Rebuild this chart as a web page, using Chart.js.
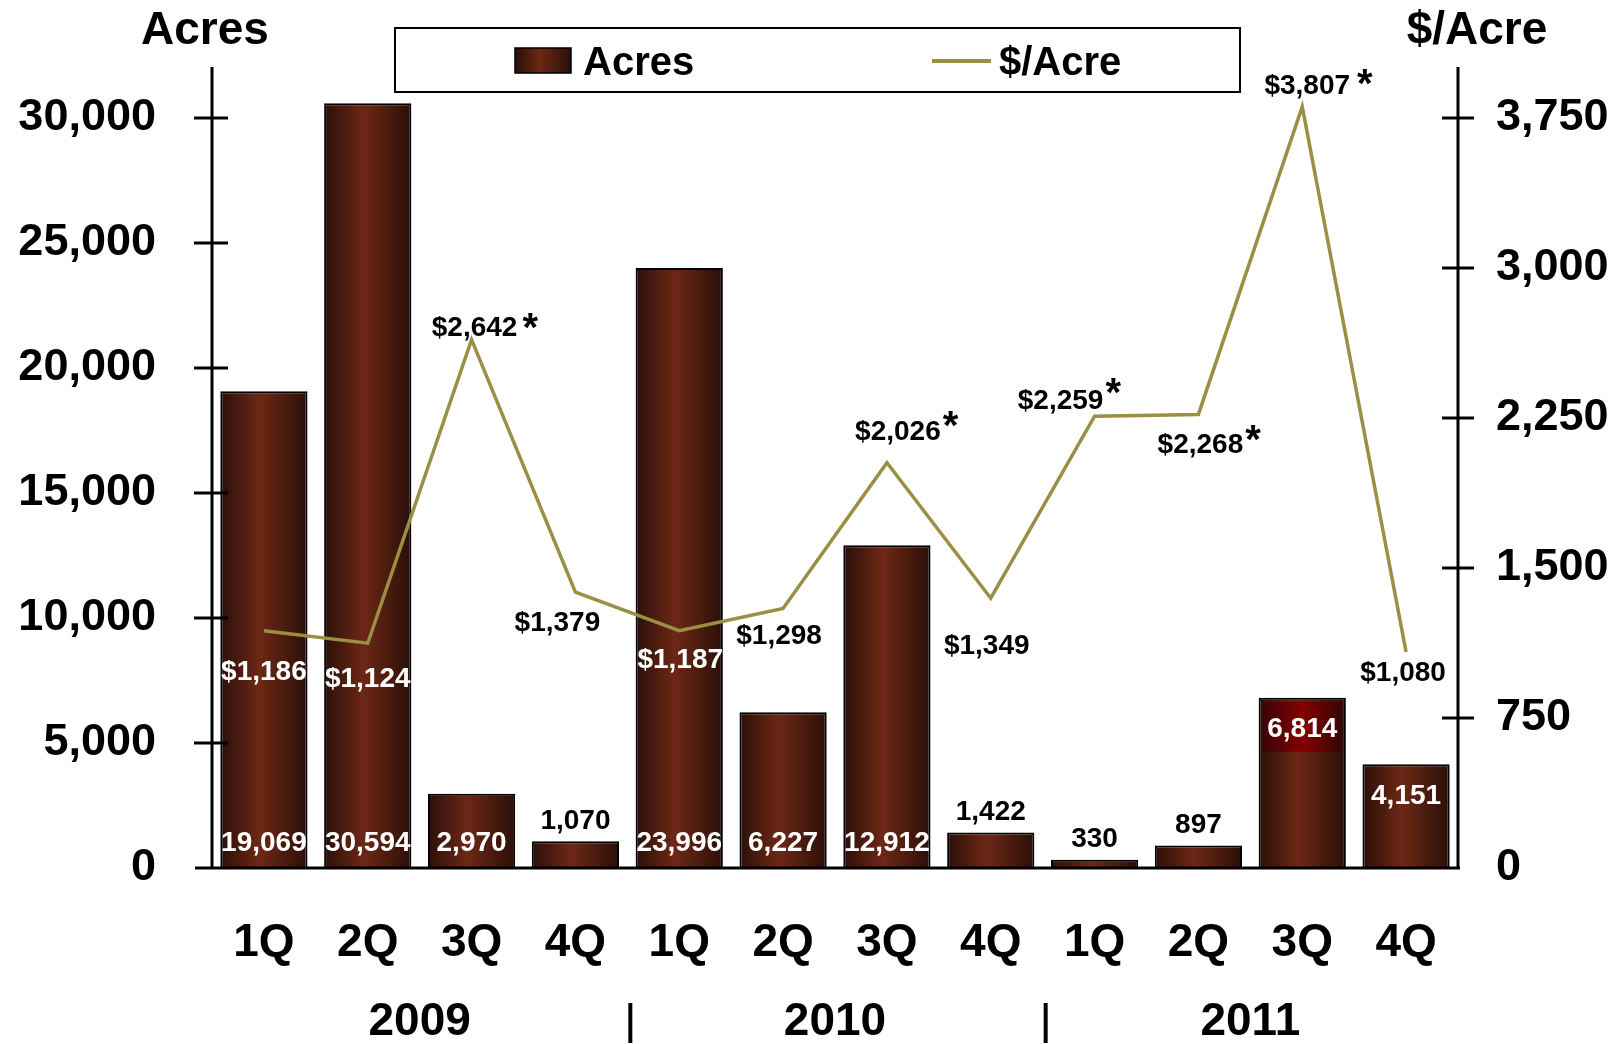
<!DOCTYPE html>
<html><head><meta charset="utf-8">
<script src="https://cdn.jsdelivr.net/npm/chart.js@4.4.1/dist/chart.umd.min.js"></script>
<style>html,body{margin:0;padding:0;background:#fff;}canvas{display:block;}</style>
</head><body>
<canvas id="c" width="1624" height="1044"></canvas>
<script>
// ---------- data ----------
const categories = ['1Q','2Q','3Q','4Q','1Q','2Q','3Q','4Q','1Q','2Q','3Q','4Q'];
const years = ['2009','2010','2011'];
const quartersPerYear = 4;
const acres = [19069, 30594, 2970, 1070, 23996, 6227, 12912, 1422, 330, 897, 6814, 4151];
const pricePerAcre = [1186, 1124, 2642, 1379, 1187, 1298, 2026, 1349, 2259, 2268, 3807, 1080];
const priceFootnote = [false, false, true, false, false, false, true, false, true, true, true, false];
const acresTicks = [0, 5000, 10000, 15000, 20000, 25000, 30000];
const priceTicks = [0, 750, 1500, 2250, 3000, 3750];
const acresMax = 32000;
const priceMax = 4000;

// ---------- label styling (placement relative to the data point) ----------
const acresLabelPlace = ['base','base','base','above','base','base','base','above','above','above','top','top'];
const acresLabelHighlight = [false,false,false,false,false,false,false,false,false,false,true,false];
const priceLabelOffset = [[0,39],[0,34],[3,-14],[-18,29],[1,27],[-4,26],[11,-33],[-4,46],[-34,-17],[2,29],[5,-23],[-3,19]];
const priceLabelColor = ['#fff','#fff','#000','#000','#fff','#000','#000','#000','#000','#000','#000','#000'];
const starGap = [0,0,5,0,0,0,2,0,2,2,7,0];
const starRaise = [0,0,5,0,0,0,11,0,13,10,7,1];

const FONT = "'Liberation Sans', Arial, sans-serif";
const LINE_COLOR = '#9a8f45';
const BAR_FRACTION = 0.84;

function barGradient(c) {
  const chart = c.chart;
  const x = chart.scales && chart.scales.x;
  if (!x || c.dataIndex === undefined || !isFinite(x.width)) return '#5a2012';
  const cx = x.getPixelForValue(c.dataIndex);
  const hw = (x.width / categories.length) * BAR_FRACTION / 2;
  const g = chart.ctx.createLinearGradient(cx - hw, 0, cx + hw, 0);
  g.addColorStop(0, '#2a0f08');
  g.addColorStop(0.45, '#6d2815');
  g.addColorStop(1, '#2a0f08');
  return g;
}

function fmt(v) { return v.toLocaleString('en-US'); }

const decor = {
  id: 'decor',
  afterDatasetsDraw(chart) {
    const ctx = chart.ctx;
    const xS = chart.scales.x, yS = chart.scales.y, y1S = chart.scales.y1;
    const area = chart.chartArea;
    const left = area.left, right = area.right, top = area.top;
    const base = yS.getPixelForValue(0);
    ctx.save();
    // axes
    ctx.strokeStyle = '#000';
    ctx.lineWidth = 3;
    ctx.beginPath();
    ctx.moveTo(left, top - 1); ctx.lineTo(left, base);
    ctx.moveTo(right, top - 1); ctx.lineTo(right, base);
    ctx.moveTo(left - 17, base); ctx.lineTo(right + 2, base);
    ctx.stroke();
    acresTicks.forEach(v => {
      if (v === 0) return;
      const p = yS.getPixelForValue(v);
      ctx.beginPath(); ctx.moveTo(left - 18, p); ctx.lineTo(left + 16, p); ctx.stroke();
    });
    priceTicks.forEach(v => {
      if (v === 0) return;
      const p = y1S.getPixelForValue(v);
      ctx.beginPath(); ctx.moveTo(right - 16, p); ctx.lineTo(right + 16, p); ctx.stroke();
    });

    // acres labels
    const barMeta = chart.getDatasetMeta(1);
    ctx.font = 'bold 28px ' + FONT;
    ctx.textAlign = 'center';
    ctx.textBaseline = 'middle';
    acres.forEach((v, i) => {
      const el = barMeta.data[i];
      const x = el.x;
      const topPx = yS.getPixelForValue(v);
      let y, color;
      if (acresLabelPlace[i] === 'base') { y = base - 26; color = '#fff'; }
      else if (acresLabelPlace[i] === 'above') { y = topPx - 21; color = '#000'; }
      else { y = topPx + 31; color = '#fff'; }
      if (acresLabelHighlight[i]) {
        const w = 78, h = 50;
        const g = ctx.createLinearGradient(x - w / 2, 0, x + w / 2, 0);
        g.addColorStop(0, '#3a0505');
        g.addColorStop(0.5, '#850000');
        g.addColorStop(1, '#3a0505');
        ctx.fillStyle = g;
        ctx.fillRect(x - w / 2, y - h / 2 - 2, w, h);
      }
      ctx.fillStyle = color;
      ctx.fillText(fmt(v), x, y + 1);
    });

    // price labels
    const lineMeta = chart.getDatasetMeta(0);
    ctx.textBaseline = 'alphabetic';
    pricePerAcre.forEach((v, i) => {
      const el = lineMeta.data[i];
      const x = el.x + priceLabelOffset[i][0];
      const y = el.y + priceLabelOffset[i][1];
      const txt = '$' + fmt(v);
      ctx.font = 'bold 28px ' + FONT;
      ctx.fillStyle = priceLabelColor[i];
      ctx.textAlign = 'center';
      const baseLine = y + 10;
      ctx.fillText(txt, x, baseLine);
      if (priceFootnote[i]) {
        const w = ctx.measureText(txt).width;
        ctx.font = 'bold 40px ' + FONT;
        ctx.textAlign = 'left';
        ctx.fillText('*', x + w / 2 + starGap[i], baseLine + 10 - starRaise[i]);
      }
    });

    // years and separators
    const step = xS.width / categories.length;
    ctx.font = 'bold 46px ' + FONT;
    ctx.fillStyle = '#000';
    ctx.textAlign = 'center';
    ctx.textBaseline = 'middle';
    years.forEach((yr, k) => {
      const a = xS.getPixelForValue(k * quartersPerYear) - step / 2;
      const b = xS.getPixelForValue(k * quartersPerYear + quartersPerYear - 1) + step / 2;
      ctx.fillText(yr, (a + b) / 2, 1022);
      if (k > 0) {
        ctx.lineWidth = 4;
        ctx.beginPath(); ctx.moveTo(a + 3, 1003); ctx.lineTo(a + 3, 1043); ctx.stroke();
      }
    });

    // axis titles
    ctx.font = 'bold 46px ' + FONT;
    ctx.fillText('Acres', left - 7, 31);
    ctx.fillText('$/Acre', right + 19, 31);

    // legend
    ctx.lineWidth = 2;
    ctx.strokeStyle = '#000';
    ctx.strokeRect(395, 28, 845, 64);
    const lg = ctx.createLinearGradient(515, 0, 571, 0);
    lg.addColorStop(0, '#2a0f08'); lg.addColorStop(0.45, '#6d2815'); lg.addColorStop(1, '#2a0f08');
    ctx.fillStyle = lg;
    ctx.fillRect(515, 48, 56, 25);
    ctx.lineWidth = 1.5;
    ctx.strokeRect(515, 48, 56, 25);
    ctx.font = 'bold 40px ' + FONT;
    ctx.fillStyle = '#000';
    ctx.textAlign = 'left';
    ctx.fillText(chart.data.datasets[1].label, 583, 64);
    ctx.strokeStyle = LINE_COLOR;
    ctx.lineWidth = 4;
    ctx.beginPath(); ctx.moveTo(932, 61); ctx.lineTo(991, 61); ctx.stroke();
    ctx.fillText(chart.data.datasets[0].label, 999, 64);
    ctx.restore();
  }
};

new Chart(document.getElementById('c'), {
  data: {
    labels: categories,
    datasets: [
      {
        type: 'line', label: '$/Acre', data: pricePerAcre, yAxisID: 'y1',
        borderColor: LINE_COLOR, borderWidth: 3.5, pointRadius: 0, tension: 0, order: 0
      },
      {
        type: 'bar', label: 'Acres', data: acres, yAxisID: 'y',
        backgroundColor: barGradient, borderColor: '#000', borderWidth: 2,
        categoryPercentage: 1, barPercentage: BAR_FRACTION, order: 1
      }
    ]
  },
  options: {
    responsive: false,
    animation: false,
    devicePixelRatio: 1,
    layout: { padding: { top: 68, left: 0, right: 0, bottom: 0 } },
    plugins: { legend: { display: false }, tooltip: { enabled: false } },
    scales: {
      x: {
        type: 'category', offset: true,
        grid: { display: false, drawTicks: false }, border: { display: false },
        ticks: { color: '#000', font: { family: FONT, size: 46, weight: 'bold', lineHeight: 1.2 }, padding: 48, maxRotation: 0, autoSkip: false },
        afterFit(s) { s.height = 176; s.paddingLeft = 0; s.paddingRight = 0; }
      },
      y: {
        position: 'left', min: 0, max: acresMax,
        grid: { display: false, drawTicks: false }, border: { display: false },
        ticks: { stepSize: 5000, color: '#000', padding: 56, font: { family: FONT, size: 45, weight: 'bold' }, callback: v => fmt(v) },
        afterBuildTicks(s) { s.ticks = acresTicks.map(v => ({ value: v })); },
        afterFit(s) { s.width = 212; s.paddingTop = 0; s.paddingBottom = 0; }
      },
      y1: {
        position: 'right', min: 0, max: priceMax,
        grid: { display: false, drawTicks: false }, border: { display: false },
        ticks: { stepSize: 750, color: '#000', padding: 38, font: { family: FONT, size: 45, weight: 'bold' }, callback: v => fmt(v) },
        afterBuildTicks(s) { s.ticks = priceTicks.map(v => ({ value: v })); },
        afterFit(s) { s.width = 166; s.paddingTop = 0; s.paddingBottom = 0; }
      }
    }
  },
  plugins: [decor]
});
</script>
</body></html>
